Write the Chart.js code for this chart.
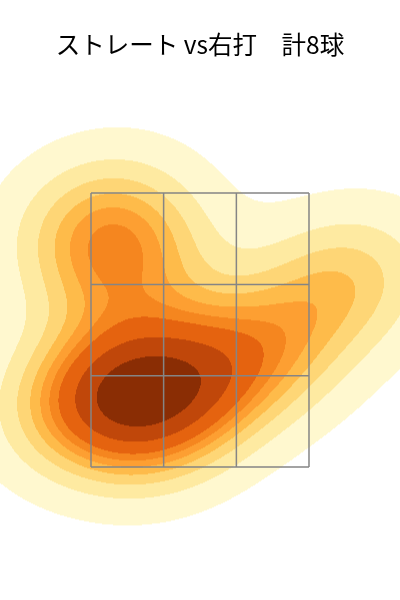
<!DOCTYPE html>
<html lang="ja">
<head>
  <meta charset="UTF-8">
  <title>ストレート vs右打</title>
  <script src="https://cdn.jsdelivr.net/npm/chart.js"></script>
  <style>
    body { margin: 0; background: #fff; }
    .chart-container { width: 400px; height: 600px; }
  </style>
</head>
<body>
  <div class="chart-container"><canvas id="zoneChart"></canvas></div>

  <script>
    // pitch locations (feet): horizontal / height
    const pitchX = [-0.76, -0.57, -0.57, -0.09, -0.88, -0.34, 0.50, 1.10];
    const pitchZ = [3.30, 2.95, 2.10, 2.15, 1.99, 1.81, 2.34, 2.87];

    // strike zone edges
    const zoneX = [-0.83, -0.277, 0.277, 0.83];
    const zoneZ = [1.5, 2.167, 2.833, 3.5];

    const bandColors = ["#fff8cf", "#feeaa1", "#fed676", "#febb4a", "#fd9f32",
                        "#f5861f", "#e5630f", "#c0470a", "#8a2d04"];
    const THRESH = 0.05, N_LEVELS = 10;

    // gaussian KDE, Scott's rule (same as scipy / seaborn)
    const n = pitchX.length;
    const mx = pitchX.reduce((a, b) => a + b) / n;
    const mz = pitchZ.reduce((a, b) => a + b) / n;
    let sxx = 0, szz = 0, sxz = 0;
    for (let i = 0; i < n; i++) {
      sxx += (pitchX[i] - mx) ** 2;
      szz += (pitchZ[i] - mz) ** 2;
      sxz += (pitchX[i] - mx) * (pitchZ[i] - mz);
    }
    const f2 = Math.pow(n, -2 / 6);
    const cxx = sxx / (n - 1) * f2, czz = szz / (n - 1) * f2, cxz = sxz / (n - 1) * f2;
    const det = cxx * czz - cxz * cxz;
    const ixx = czz / det, izz = cxx / det, ixz = -cxz / det;
    const norm = 1 / (n * 2 * Math.PI * Math.sqrt(det));

    function density(x, z) {
      let s = 0;
      for (let i = 0; i < n; i++) {
        const dx = x - pitchX[i], dz = z - pitchZ[i];
        s += Math.exp(-0.5 * (dx * dx * ixx + 2 * dx * dz * ixz + dz * dz * izz));
      }
      return s * norm;
    }

    // iso-proportion levels on a 200x200 support grid
    function computeLevels() {
      const bx = Math.sqrt(cxx), bz = Math.sqrt(czz), G = 200;
      const x0 = Math.min(...pitchX) - 3 * bx, x1 = Math.max(...pitchX) + 3 * bx;
      const z0 = Math.min(...pitchZ) - 3 * bz, z1 = Math.max(...pitchZ) + 3 * bz;
      const vals = [];
      let total = 0;
      for (let i = 0; i < G; i++) {
        for (let j = 0; j < G; j++) {
          const v = density(x0 + (x1 - x0) * i / (G - 1), z0 + (z1 - z0) * j / (G - 1));
          vals.push(v);
          total += v;
        }
      }
      vals.sort((a, b) => b - a);
      const cum = [];
      let c = 0;
      for (const v of vals) { c += v; cum.push(c / total); }
      const levels = [];
      for (let k = 0; k < N_LEVELS; k++) {
        const q = THRESH + (1 - THRESH) * k / (N_LEVELS - 1);
        let idx = cum.findIndex(v => v >= 1 - q - 1e-12);
        if (idx < 0) idx = vals.length - 1;
        levels.push(vals[idx]);
      }
      return levels;
    }
    const levels = computeLevels();

    function hexToRgb(h) {
      return [parseInt(h.slice(1, 3), 16), parseInt(h.slice(3, 5), 16), parseInt(h.slice(5, 7), 16)];
    }
    const bandRgb = bandColors.map(hexToRgb);

    const kdePlugin = {
      id: 'kdeFill',
      beforeDatasetsDraw(chart) {
        const { ctx, chartArea: a, scales: { x, y } } = chart;
        const w = Math.round(a.right - a.left), h = Math.round(a.bottom - a.top);
        const off = document.createElement('canvas');
        off.width = w; off.height = h;
        const octx = off.getContext('2d');
        const img = octx.createImageData(w, h);
        for (let j = 0; j < h; j++) {
          const zv = y.getValueForPixel(a.top + j + 0.5);
          for (let i = 0; i < w; i++) {
            const xv = x.getValueForPixel(a.left + i + 0.5);
            const d = density(xv, zv);
            if (d < levels[0]) continue;
            let band = 0;
            for (let k = 1; k < levels.length - 1; k++) if (d >= levels[k]) band = k;
            const p = (j * w + i) * 4, col = bandRgb[band];
            img.data[p] = col[0]; img.data[p + 1] = col[1]; img.data[p + 2] = col[2]; img.data[p + 3] = 255;
          }
        }
        octx.putImageData(img, 0, 0);
        ctx.drawImage(off, a.left, a.top);
      }
    };

    // strike zone grid as line segments
    const zoneSets = [];
    zoneX.forEach(v => zoneSets.push([{ x: v, y: zoneZ[0] }, { x: v, y: zoneZ[3] }]));
    zoneZ.forEach(v => zoneSets.push([{ x: zoneX[0], y: v }, { x: zoneX[3], y: v }]));

    new Chart(document.getElementById("zoneChart"), {
      type: 'scatter',
      data: {
        datasets: zoneSets.map(pts => ({
          data: pts, showLine: true, pointRadius: 0,
          borderColor: "#858585", borderWidth: 1.5
        }))
      },
      options: {
        responsive: true,
        maintainAspectRatio: false,
        animation: false,
        layout: { padding: 0 },
        plugins: {
          legend: { display: false },
          tooltip: { enabled: false },
          title: {
            display: true,
            text: "ストレート vs右打　計8球",
            color: "#000",
            font: { family: "'Noto Sans CJK JP', 'Noto Sans'", size: 24.5, weight: 'normal' },
            padding: { top: 30, bottom: 20 }
          }
        },
        scales: {
          x: { type: 'linear', display: false, min: -1.523, max: 1.523 },
          y: { type: 'linear', display: false, min: 0.53, max: 4.33 }
        }
      },
      plugins: [kdePlugin]
    });
  </script>
</body>
</html>
